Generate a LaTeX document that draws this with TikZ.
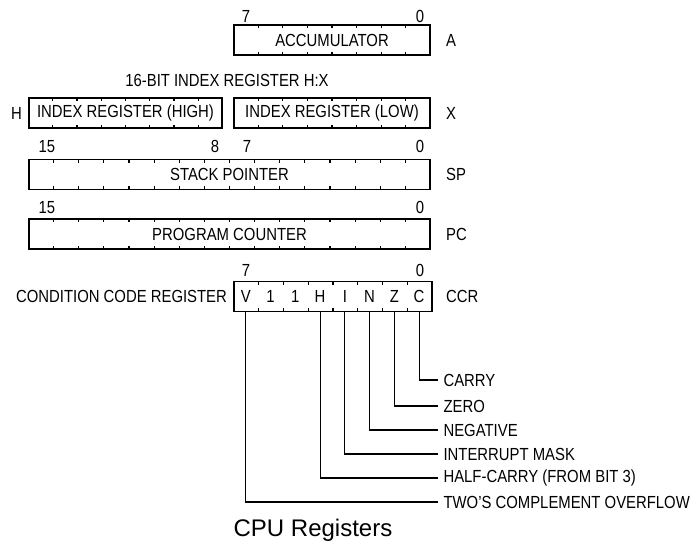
\documentclass[tikz,border=0pt]{standalone}
\usepackage{fontspec}
\setmainfont{Liberation Sans}[FakeStretch=0.85]
\newfontfamily\titlefont{Liberation Sans}
\usetikzlibrary{positioning,calc}

% short bit ticks on top and bottom edge of a register node
\newcommand{\bitticks}[2]{%
  \pgfmathtruncatemacro{\lastk}{#2-1}%
  \foreach \k in {1,...,\lastk}{%
    \draw ($(#1.north west)!\k/#2!(#1.north east)$) -- ++(0,4);
    \draw ($(#1.south west)!\k/#2!(#1.south east)$) -- ++(0,-4);
  }}

\begin{document}
\begin{tikzpicture}[x=1pt, y=-1pt, font=\fontsize{17.5}{19}\selectfont, line width=1.1pt]
  \tikzset{reg/.style={draw, minimum height=30pt, inner sep=0pt},
           bitno/.style={anchor=base, inner sep=0pt},
           side/.style={inner sep=0pt},
           flag/.style={anchor=west, inner xsep=5pt, inner ysep=0pt}}
  \useasboundingbox (0,0) rectangle (690,550);

  % accumulator
  \node[reg, minimum width=196pt] (acc) at (332,40) {ACCUMULATOR};
  \bitticks{acc}{8}
  \node[bitno] (acc7) at (246,22) {7};
  \node[bitno] (acc0) at (420,22) {0};
  \node[side, right=15pt of acc] (accname) {A};

  % index register H:X
  \node[inner sep=0pt, anchor=base] (hxtitle) at (227,86) {16-BIT INDEX REGISTER H:X};
  \node[reg, minimum width=193pt] (hreg) at (125.5,113) {INDEX REGISTER (HIGH)};
  \node[reg, minimum width=196pt] (xreg) at (332,113) {INDEX REGISTER (LOW)};
  \bitticks{hreg}{8}
  \bitticks{xreg}{8}
  \node[side, left=6pt of hreg] (hname) {H};
  \node[side, right=15pt of xreg] (xname) {X};

  % stack pointer
  \node[reg, minimum width=401pt] (sp) at (229.5,174.5) {STACK POINTER};
  \bitticks{sp}{16}
  \node[bitno] (sp15) at (47,152) {15};
  \node[bitno] (sp8) at (215,152) {8};
  \node[bitno] (sp7) at (247,152) {7};
  \node[bitno] (sp0) at (420,152) {0};
  \node[side, right=15pt of sp] (spname) {SP};

  % program counter
  \node[reg, minimum width=401pt] (pc) at (229.5,234) {PROGRAM COUNTER};
  \bitticks{pc}{16}
  \node[bitno] (pc15) at (47,213) {15};
  \node[bitno] (pc0) at (420,213) {0};
  \node[side, right=15pt of pc] (pcname) {PC};

  % condition code register
  \node[reg, minimum width=198pt] (ccr) at (333,296.5) {};
  \bitticks{ccr}{8}
  \node[bitno] (ccr7) at (246,276) {7};
  \node[bitno] (ccr0) at (420,276) {0};
  \node[side, right=13pt of ccr] (ccrname) {CCR};
  \node[side, left=6pt of ccr] (ccrtitle) {CONDITION CODE REGISTER};
  \foreach \b [count=\i] in {V,1,1,H,I,N,Z,C}
    \node[inner sep=0pt] (f\i) at ($(ccr.west)+(\i*24.75-12.375,0)$) {\b};

  % flag descriptions
  \node[flag] (carry) at (438,380) {CARRY};
  \node[flag] (zero) at (438,406) {ZERO};
  \node[flag] (neg) at (438,430) {NEGATIVE};
  \node[flag] (imask) at (438,454) {INTERRUPT MASK};
  \node[flag] (half) at (438,478) {HALF-CARRY (FROM BIT 3)};
  \node[flag] (ovf) at (438,502) {TWO'S COMPLEMENT OVERFLOW};
  \draw (ccr.south -| f8) |- (carry.west);
  \draw (ccr.south -| f7) |- (zero.west);
  \draw (ccr.south -| f6) |- (neg.west);
  \draw (ccr.south -| f5) |- (imask.west);
  \draw (ccr.south -| f4) |- (half.west);
  \draw (ccr.south -| f1) |- (ovf.west);

  \node[font=\titlefont\fontsize{24}{26}\selectfont] (caption) at (313,530) {CPU Registers};
\end{tikzpicture}
\end{document}
